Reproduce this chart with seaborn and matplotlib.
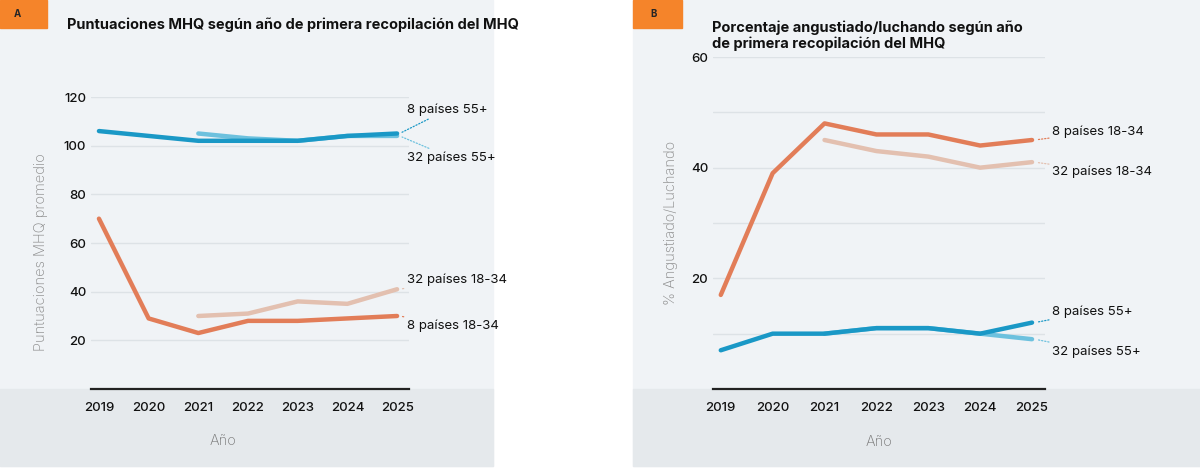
import pandas as pd
import seaborn as sns
import matplotlib.pyplot as plt
from matplotlib.patches import Rectangle

years = [2019, 2020, 2021, 2022, 2023, 2024, 2025]

# panel A: MHQ scores
mhq_8_55 = [106, 104, 102, 102, 102, 104, 105]
mhq_32_55 = [None, None, 105, 103, 102, 104, 104]
mhq_8_18 = [70, 29, 23, 28, 28, 29, 30]
mhq_32_18 = [None, None, 30, 31, 36, 35, 41]

# panel B: % distressed/struggling
pct_8_18 = [17, 39, 48, 46, 46, 44, 45]
pct_32_18 = [None, None, 45, 43, 42, 40, 41]
pct_8_55 = [7, 10, 10, 11, 11, 10, 12]
pct_32_55 = [None, None, 10, 11, 11, 10, 9]

names = ["32 países 55+", "8 países 55+", "32 países 18-34", "8 países 18-34"]
colors = {"8 países 55+": "#1a98c6", "32 países 55+": "#6dc1de",
          "8 países 18-34": "#e27d58", "32 países 18-34": "#e3c0b0"}


def long_df(series):
    rows = []
    for name, vals in zip(names, series):
        for y, v in zip(years, vals):
            if v is not None:
                rows.append({"year": y, "value": v, "serie": name})
    return pd.DataFrame(rows)


df_a = long_df([mhq_32_55, mhq_8_55, mhq_32_18, mhq_8_18])
df_b = long_df([pct_32_55, pct_8_55, pct_32_18, pct_8_18])

sns.set_style("white")
plt.rcParams["font.family"] = ["Inter", "DejaVu Sans"]

W, H = 1200, 469
fig = plt.figure(figsize=(12, 4.69), dpi=100)


def px_rect(x0, y0, x1, y1, color):
    fig.patches.append(Rectangle((x0 / W, 1 - y1 / H), (x1 - x0) / W, (y1 - y0) / H,
                                 transform=fig.transFigure, color=color, zorder=-10))


# panel backgrounds
px_rect(0, 0, 493, 466, "#f0f3f6")
px_rect(0, 389, 493, 466, "#e5e9ec")
px_rect(633, 0, 1200, 466, "#f0f3f6")
px_rect(633, 389, 1200, 466, "#e5e9ec")
# orange tags
px_rect(0, 0, 47, 28, "#f5842a")
px_rect(633, 0, 682, 28, "#f5842a")
fig.text(14 / W, 1 - 14 / H, "A", fontsize=7, fontweight="bold", va="center")
fig.text(650 / W, 1 - 14 / H, "B", fontsize=7, fontweight="bold", va="center")

fig.text(67 / W, 1 - 25 / H, "Puntuaciones MHQ según año de primera recopilación del MHQ",
         fontsize=10.5, fontweight="bold", va="center", color="#111111")
fig.text(712 / W, 1 - 36 / H, "Porcentaje angustiado/luchando según año\nde primera recopilación del MHQ",
         fontsize=10.5, fontweight="bold", va="center", color="#111111", linespacing=1.15)


def make_axes(x0, x1, ytop, ylim, xlim):
    ax = fig.add_axes([x0 / W, 1 - 389 / H, (x1 - x0) / W, (389 - ytop) / H])
    ax.set_facecolor("none")
    ax.set_xlim(*xlim)
    ax.set_ylim(*ylim)
    for s in ["top", "right", "left"]:
        ax.spines[s].set_visible(False)
    ax.spines["bottom"].set_color("#222222")
    ax.spines["bottom"].set_linewidth(1.6)
    ax.tick_params(length=0, labelsize=9.5, colors="#111111")
    ax.tick_params(axis="x", pad=9)
    ax.set_xticks(years)
    ax.grid(axis="y", color="#dde2e6", lw=1)
    return ax


def draw(ax, df, labels):
    sns.lineplot(data=df, x="year", y="value", hue="serie", hue_order=names,
                 palette=colors, lw=3.2, ax=ax, legend=False, clip_on=False,
                 solid_capstyle="round")
    last = df[df.year == 2025].set_index("serie")["value"]
    for name, (tx, ty) in labels.items():
        ax.annotate(name, xy=(2025.05, last[name]), xytext=(tx, ty),
                    textcoords="data", fontsize=9.5, va="center", color="#111111",
                    arrowprops=dict(arrowstyle="-", ls=(0, (1, 1.5)), lw=0.9,
                                    color=colors[name], shrinkA=0, shrinkB=2),
                    annotation_clip=False)
    ax.set_xlabel("Año", fontsize=10.5, color="#777777", fontweight="light")
    for t in ax.get_xticklabels() + ax.get_yticklabels():
        t.set_fontweight("medium")


# panel A
ax1 = make_axes(91, 409, 97, (0, 120), (2018.84, 2025.24))
ax1.set_yticks([20, 40, 60, 80, 100, 120])
draw(ax1, df_a, {"8 países 55+": (2025.2, 114.8), "32 países 55+": (2025.2, 95),
                 "32 países 18-34": (2025.2, 45), "8 países 18-34": (2025.2, 26)})
ax1.set_ylabel("Puntuaciones MHQ promedio", fontsize=10.5, color="#888888", fontweight="light")
ax1.yaxis.set_label_coords(-0.135, 0.47)
ax1.xaxis.set_label_coords(0.415, -0.155)

# panel B
ax2 = make_axes(713, 1045, 57, (0, 60), (2018.85, 2025.25))
ax2.set_yticks([0, 10, 20, 30, 40, 50, 60])
ax2.set_yticklabels(["", "", "20", "", "40", "", "60"])
draw(ax2, df_b, {"8 países 18-34": (2025.39, 46.5), "32 países 18-34": (2025.39, 39.3),
                 "8 países 55+": (2025.39, 14), "32 países 55+": (2025.39, 6.8)})
ax2.set_ylabel("% Angustiado/Luchando", fontsize=10.5, color="#888888", fontweight="light")
ax2.yaxis.set_label_coords(-0.105, 0.5)
ax2.xaxis.set_label_coords(0.5, -0.14)

fig.savefig("out.png", dpi=100)
